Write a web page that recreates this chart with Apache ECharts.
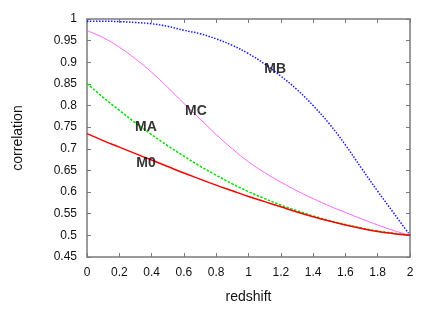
<!DOCTYPE html>
<html>
<head>
<meta charset="utf-8">
<script src="https://cdn.jsdelivr.net/npm/echarts@6/dist/echarts.min.js"></script>
<style>
html,body{margin:0;padding:0;background:#fff;}
#c{width:436px;height:309px;}
</style>
</head>
<body>
<div id="c"></div>
<script>
var redshift = [0,0.1,0.2,0.3,0.4,0.5,0.6,0.7,0.8,0.9,1.0,1.1,1.2,1.3,1.4,1.5,1.6,1.7,1.8,1.9,2.0];
var M0 = [0.735,0.719,0.704,0.689,0.674,0.659,0.644,0.630,0.616,0.603,0.590,0.578,0.566,0.554,0.543,0.533,0.524,0.516,0.509,0.504,0.500];
var MA = [0.851,0.819,0.789,0.760,0.733,0.707,0.683,0.660,0.639,0.619,0.601,0.585,0.570,0.557,0.545,0.534,0.525,0.517,0.510,0.505,0.500];
var MB = [0.995,0.995,0.994,0.992,0.989,0.983,0.974,0.966,0.954,0.939,0.920,0.896,0.868,0.837,0.800,0.758,0.709,0.655,0.602,0.551,0.500];
var MC = [0.973,0.957,0.935,0.908,0.877,0.842,0.805,0.769,0.733,0.700,0.670,0.645,0.623,0.603,0.585,0.568,0.553,0.538,0.524,0.511,0.500];
var curveLabels = [
  {name:'M0', x:0.365, y:0.666},
  {name:'MA', x:0.365, y:0.749},
  {name:'MB', x:1.165, y:0.883},
  {name:'MC', x:0.674, y:0.788}
];
var xTicks = {min:0, max:2, interval:0.2};
var yTicks = {min:0.45, max:1, interval:0.05};

function pairs(ys){ return redshift.map(function(x,i){ return [x, ys[i]]; }); }

var frameColor = '#7a7a7a';
var font = 'Liberation Sans, Arial, Helvetica, sans-serif';
function axisCommon(show){
  return {
    axisLine:{show:true, onZero:false, lineStyle:{color:frameColor, width:1.5}},
    axisTick:{show:true, inside:true, length:4, lineStyle:{color:frameColor, width:1}},
    splitLine:{show:false},
    axisLabel:{show:show, color:'#111', fontSize:12, fontFamily:font}
  };
}
var chart = echarts.init(document.getElementById('c'), null, {renderer:'canvas'});
var xb = Object.assign({type:'value', position:'bottom', min:xTicks.min, max:xTicks.max, interval:xTicks.interval,
  name:'redshift', nameLocation:'middle', nameGap:33, nameTextStyle:{fontSize:14, color:'#111', fontFamily:font}}, axisCommon(true));
xb.axisLabel.margin = 10;
var xt = Object.assign({type:'value', position:'top', min:xTicks.min, max:xTicks.max, interval:xTicks.interval}, axisCommon(false));
var yl = Object.assign({type:'value', position:'left', min:yTicks.min, max:yTicks.max, interval:yTicks.interval,
  name:'correlation', nameLocation:'middle', nameGap:62, nameRotate:90, nameTextStyle:{fontSize:14, color:'#111', fontFamily:font}}, axisCommon(true));
yl.axisLabel.margin = 10;
var yr = Object.assign({type:'value', position:'right', min:yTicks.min, max:yTicks.max, interval:yTicks.interval}, axisCommon(false));

function lineSeries(name, ys, color, width, type){
  return {name:name, type:'line', data:pairs(ys), xAxisIndex:0, yAxisIndex:0, smooth:0.4, showSymbol:false, symbol:'none',
    lineStyle:{color:color, width:width, type:type}, z:3};
}
var option = {
  animation:false,
  backgroundColor:'#fff',
  grid:{left:87, right:26, top:19, bottom:47, containLabel:false},
  xAxis:[xb, xt],
  yAxis:[yl, yr],
  series:[
    lineSeries('MC', MC, '#ff66ff', 1, 'solid'),
    lineSeries('MB', MB, '#1a1aff', 1.5, [1.5,1.5]),
    lineSeries('MA', MA, '#00e000', 1.5, [2.5,1.5]),
    lineSeries('M0', M0, '#ff0000', 1.5, 'solid'),
    {type:'scatter', xAxisIndex:0, yAxisIndex:0, symbolSize:0, z:5,
      data:curveLabels.map(function(l){ return {value:[l.x,l.y], name:l.name}; }),
      label:{show:true, position:'inside', formatter:function(p){return p.name;}, color:'#000', fontSize:14, fontWeight:'bold', fontFamily:font}}
  ]
};
chart.setOption(option);
</script>
</body>
</html>
